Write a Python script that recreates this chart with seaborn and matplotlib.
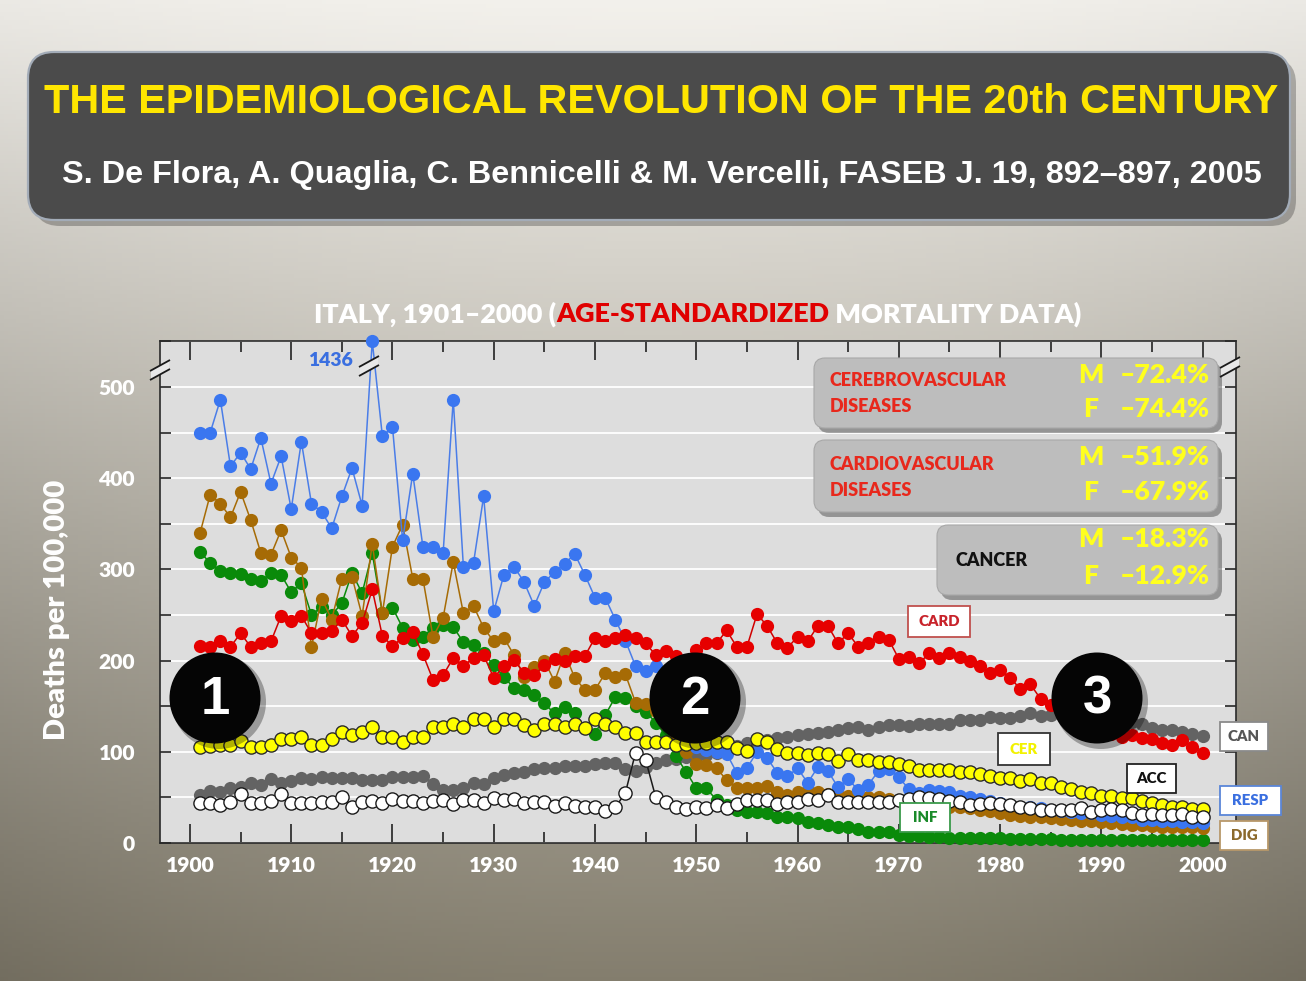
import numpy as np
import pandas as pd
import matplotlib
matplotlib.use("Agg")
import matplotlib.pyplot as plt
from matplotlib.patches import FancyBboxPatch, Ellipse, Rectangle, Polygon
from matplotlib.ticker import MultipleLocator
import seaborn as sns

# ---------------- data (deaths per 100,000, Italy, age-standardized) ----------------
years = list(range(1901, 2001))

resp = [450, 450, 486, 413, 428, 410, 444, 394, 424, 366,
        440, 372, 363, 345, 380, 411, 370, 1436, 446, 456,
        332, 405, 325, 325, 318, 486, 303, 307, 380, 254,
        294, 303, 286, 260, 286, 297, 306, 317, 294, 269,
        269, 245, 222, 194, 189, 194, 170, 150, 125, 105,
        102, 100, 98, 77, 82, 100, 93, 77, 73, 82,
        66, 83, 79, 61, 70, 58, 64, 79, 81, 72,
        59, 55, 58, 57, 56, 52, 50, 48, 46, 44,
        42, 40, 40, 38, 36, 35, 34, 33, 33, 31,
        30, 28, 28, 25, 25, 24, 24, 23, 23, 22]

dig = [340, 382, 372, 357, 385, 354, 318, 316, 343, 313,
       302, 215, 268, 245, 290, 292, 249, 328, 252, 325,
       349, 290, 290, 226, 247, 308, 252, 260, 236, 221,
       225, 206, 182, 193, 200, 177, 208, 181, 168, 168,
       186, 182, 185, 154, 152, 145, 130, 115, 100, 87,
       85, 82, 69, 60, 60, 60, 62, 56, 53, 56,
       58, 56, 54, 53, 52, 51, 50, 50, 48, 47,
       46, 44, 43, 42, 40, 39, 38, 36, 35, 33,
       31, 30, 29, 28, 27, 26, 25, 24, 24, 23,
       22, 21, 20, 20, 19, 18, 18, 17, 17, 16]

inf = [319, 307, 298, 296, 295, 290, 287, 296, 294, 275,
       285, 250, 259, 250, 263, 296, 274, 318, 252, 258,
       236, 223, 226, 236, 239, 237, 220, 217, 208, 195,
       182, 170, 168, 162, 153, 142, 149, 142, 126, 120,
       140, 160, 159, 150, 144, 132, 118, 95, 78, 60,
       60, 47, 42, 36, 34, 34, 33, 29, 29, 27,
       23, 22, 20, 18, 18, 15, 12, 12, 12, 9,
       8, 8, 7, 7, 6, 6, 6, 5, 5, 5,
       4, 4, 4, 4, 4, 3, 3, 3, 3, 3,
       3, 3, 3, 3, 3, 3, 3, 3, 3, 3]

card = [216, 215, 221, 215, 230, 215, 219, 221, 249, 243,
        249, 230, 230, 232, 245, 227, 241, 278, 227, 216,
        225, 231, 207, 179, 184, 203, 194, 203, 206, 181,
        194, 201, 186, 184, 195, 202, 200, 205, 205, 225,
        221, 225, 228, 225, 219, 206, 210, 205, 200, 212,
        219, 219, 233, 215, 215, 251, 238, 219, 214, 226,
        221, 238, 238, 219, 230, 215, 219, 226, 223, 202,
        204, 197, 208, 203, 208, 204, 200, 194, 186, 190,
        181, 169, 174, 158, 151, 145, 140, 135, 130, 124,
        120, 116, 118, 115, 114, 110, 107, 113, 105, 99]

cer = [105, 106, 107, 107, 112, 105, 105, 107, 114, 114,
       116, 107, 107, 114, 122, 118, 122, 127, 116, 116,
       111, 116, 116, 127, 127, 130, 127, 136, 136, 127,
       136, 136, 129, 124, 130, 130, 127, 130, 126, 136,
       130, 127, 121, 121, 111, 111, 111, 107, 108, 110,
       110, 111, 111, 104, 101, 114, 111, 103, 99, 99,
       96, 99, 98, 90, 98, 91, 91, 89, 89, 87,
       84, 80, 80, 80, 80, 78, 78, 76, 73, 71,
       71, 68, 70, 66, 66, 61, 59, 56, 55, 52,
       52, 49, 49, 46, 44, 42, 40, 40, 37, 37]

can = [53, 57, 56, 60, 61, 66, 64, 70, 66, 68,
       71, 70, 72, 71, 71, 71, 69, 69, 69, 72,
       72, 72, 74, 65, 58, 58, 60, 66, 65, 71,
       75, 77, 78, 81, 82, 82, 84, 84, 84, 87,
       88, 88, 81, 79, 83, 88, 91, 92, 94, 94,
       96, 99, 102, 106, 110, 111, 113, 115, 116, 118,
       120, 121, 122, 124, 126, 127, 124, 127, 129, 129,
       128, 131, 131, 131, 131, 135, 135, 135, 138, 137,
       137, 139, 142, 139, 140, 141, 141, 140, 140, 138,
       137, 135, 133, 130, 126, 124, 124, 122, 120, 117]

acc = [44, 44, 42, 45, 54, 44, 44, 46, 54, 44,
       44, 44, 45, 45, 50, 40, 45, 46, 44, 48,
       46, 46, 44, 46, 47, 43, 47, 47, 44, 49,
       47, 48, 44, 45, 45, 41, 44, 41, 39, 39,
       35, 39, 55, 99, 91, 50, 45, 39, 37, 39,
       38, 42, 38, 43, 47, 47, 47, 43, 45, 45,
       48, 47, 53, 45, 45, 45, 45, 45, 45, 47,
       48, 50, 49, 48, 46, 45, 42, 43, 44, 43,
       42, 40, 38, 36, 36, 36, 36, 38, 34, 36,
       37, 36, 33, 31, 32, 31, 31, 32, 29, 29]

series = {"CAN": can, "INF": inf, "DIG": dig, "RESP": resp,
          "CARD": card, "CER": cer, "ACC": acc}

Y_MAX = 550.4   # broken axis: values above are drawn at the top edge

df = pd.concat([pd.DataFrame({"year": years, "rate": v, "cause": k})
                for k, v in series.items()], ignore_index=True)
df["shown"] = df["rate"].clip(upper=Y_MAX)

# ---------------- styles ----------------
styles = {
    "CAN":  dict(color="#636363", mfc="#636363", mec="#636363", mew=0.0, z=2),
    "INF":  dict(color="#0a8a0a", mfc="#0a8a0a", mec="#0a8a0a", mew=0.0, z=3),
    "DIG":  dict(color="#a66b05", mfc="#a66b05", mec="#a66b05", mew=0.0, z=4),
    "RESP": dict(color="#4a7de8", mfc="#3a76f0", mec="#3a76f0", mew=0.0, z=5),
    "CARD": dict(color="#d00000", mfc="#e60000", mec="#e60000", mew=0.0, z=6),
    "CER":  dict(color="#3a3a20", mfc="#ffff00", mec="#2a2a2a", mew=1.0, z=7),
    "ACC":  dict(color="#1a1a1a", mfc="#ffffff", mec="#1a1a1a", mew=1.0, z=8),
}

W, H = 1306, 981
plt.rcParams["font.family"] = ["Lato", "DejaVu Sans"]
fig = plt.figure(figsize=(W / 100, H / 100), dpi=100)

# ---------------- slide background ----------------
bg = fig.add_axes([0, 0, 1, 1], zorder=0)
hh, ww = 240, 320
t = np.linspace(0, 1, hh)[:, None, None]
s = np.linspace(-1, 1, ww)[None, :, None]
top = np.array([243, 241, 236]) / 255.0
bot = np.array([132, 126, 110]) / 255.0
img = top * (1 - t) + bot * t
img = img * (1 - 0.13 * s ** 2 * (0.25 + 0.75 * t))
img = np.broadcast_to(img, (hh, ww, 3))
bg.imshow(np.clip(img, 0, 1), extent=[0, 1, 0, 1], aspect="auto", origin="upper")
bg.axis("off")

# ---------------- main chart ----------------
L, R_, T, B = 160, 1236, 341, 843
ax = fig.add_axes([L / W, 1 - B / H, (R_ - L) / W, (B - T) / H], zorder=1)
ax.set_facecolor("#dddddd")

for k in series:
    st = styles[k]
    sub = df[df["cause"] == k]
    sns.lineplot(data=sub, x="year", y="shown", ax=ax, estimator=None,
                 errorbar=None, legend=False, color=st["color"], linewidth=1.1,
                 marker="o", markersize=9.5, markerfacecolor=st["mfc"],
                 markeredgecolor=st["mec"], markeredgewidth=st["mew"],
                 zorder=st["z"])
for ln in ax.lines:
    ln.set_clip_on(False)

ax.set_xlim(1897.04, 2003.3)
ax.set_ylim(0, Y_MAX)
ax.set_xlabel("")
ax.set_ylabel("")
ax.set_xticks(range(1900, 2001, 10))
ax.xaxis.set_minor_locator(MultipleLocator(5))
ax.set_yticks(range(0, 501, 100))
ax.yaxis.set_minor_locator(MultipleLocator(50))
ax.grid(True, axis="y", which="both", color="white", linewidth=1.3, zorder=0)
ax.grid(False, axis="x", which="both")
ax.set_axisbelow(True)
for sp in ax.spines.values():
    sp.set_color("#2a2a2a")
    sp.set_linewidth(1.2)

R = fig.canvas.get_renderer()
WT = "heavy"


def fit(txt, width, family, weight=WT, base=20.0):
    tt = fig.text(0, 0, txt, fontsize=base, family=family, fontweight=weight)
    w = tt.get_window_extent(renderer=R).width
    tt.remove()
    return base * width / w


CAL = ["Lato", "DejaVu Sans"]
ARIAL = ["Liberation Sans", "DejaVu Sans"]

tick_fs = fit("1900", 49, CAL)
ax.tick_params(axis="x", which="major", direction="in", length=14, width=1.2,
               top=True, bottom=True, color="#222222", labelcolor="white",
               labelsize=tick_fs, pad=9)
ax.tick_params(axis="x", which="minor", direction="in", length=8, width=1.2,
               top=True, bottom=True, color="#222222")
ax.tick_params(axis="y", which="both", direction="in", length=8, width=1.2,
               left=True, right=True, color="#222222", labelcolor="white",
               labelsize=tick_fs, pad=18)
for lb in ax.get_xticklabels() + ax.get_yticklabels():
    lb.set_fontweight(WT)
    lb.set_family(CAL)

# ---------------- overlay in pixel coordinates ----------------
ov = fig.add_axes([0, 0, 1, 1], zorder=3)
ov.set_xlim(0, W)
ov.set_ylim(H, 0)
ov.axis("off")

# title box
ov.add_patch(FancyBboxPatch((34, 58), 1262, 168, boxstyle="round,pad=0,rounding_size=26",
                            facecolor="#000000", alpha=0.25, edgecolor="none"))
ov.add_patch(FancyBboxPatch((28, 52), 1262, 168, boxstyle="round,pad=0,rounding_size=26",
                            facecolor="#4b4b4b", edgecolor="#a3acb8", linewidth=1.6))
t1 = "THE EPIDEMIOLOGICAL REVOLUTION OF THE 20th CENTURY"
ov.text(661, 102, t1, ha="center", va="center", color="#ffe600", family=ARIAL,
        fontweight="bold", fontsize=fit(t1, 1233, ARIAL, "bold"))
t2 = "S. De Flora, A. Quaglia, C. Bennicelli & M. Vercelli, FASEB J. 19, 892–897, 2005"
ov.text(662, 175, t2, ha="center", va="center", color="white", family=ARIAL,
        fontweight="bold", fontsize=fit(t2, 1200, ARIAL, "bold"))

# chart title in three colours
parts = [("ITALY, 1901–2000 (", "white"), ("AGE-STANDARDIZED", "#e00000"),
         (" MORTALITY DATA)", "white")]
full = "".join(p for p, _ in parts)
cfs = fit(full, 771, CAL)
x0 = 314
for p, c in parts:
    tx = ov.text(x0, 314, p, ha="left", va="center", color=c, family=CAL,
                 fontweight=WT, fontsize=cfs)
    x0 += tx.get_window_extent(renderer=R).width

# y label
ylab = "Deaths per 100,000"
ov.text(57, 610, ylab, rotation=90, ha="center", va="center", color="white",
        family=CAL, fontweight=WT, fontsize=fit(ylab, 260, CAL))

# break marks
def brk(cx, cy):
    d = 4.5
    poly = Polygon([(cx - 9, cy + 5 - d), (cx + 9, cy - 5 - d),
                    (cx + 9, cy - 5 + d), (cx - 9, cy + 5 + d)],
                   closed=True, facecolor="#e8e8e8", edgecolor="none", zorder=5)
    ov.add_patch(poly)
    for off in (-d, d):
        ov.plot([cx - 10, cx + 10], [cy + 5.5 + off, cy - 5.5 + off],
                color="#1a1a1a", lw=1.3, zorder=6, solid_capstyle="butt")

brk(160, 370)
brk(1230, 367)
brk(369, 366)
ov.text(330, 361, "1436", ha="center", va="center", color="#3a6fe0", family=CAL,
        fontweight=WT, fontsize=fit("1436", 45, CAL))

# info boxes
def infobox(x0_, y0_, x1_, y1_):
    ov.add_patch(FancyBboxPatch((x0_ + 4, y0_ + 5), x1_ - x0_, y1_ - y0_,
                                boxstyle="round,pad=0,rounding_size=11",
                                facecolor="#3c3c3c", alpha=0.45, edgecolor="none"))
    ov.add_patch(FancyBboxPatch((x0_, y0_), x1_ - x0_, y1_ - y0_,
                                boxstyle="round,pad=0,rounding_size=11",
                                facecolor="#bdbdbd", edgecolor="#a8a8a8", linewidth=0.8))

infobox(814, 358, 1218, 428)
infobox(814, 440, 1218, 512)
infobox(937, 525, 1218, 595)

red_fs = fit("CEREBROVASCULAR", 178, CAL)
pct_fs = fit("–72.4%", 90, CAL)
RED = "#e8281c"
YEL = "#ffff1e"
ov.text(830, 381, "CEREBROVASCULAR", ha="left", va="center", color=RED, family=CAL,
        fontweight=WT, fontsize=red_fs)
ov.text(830, 406, "DISEASES", ha="left", va="center", color=RED, family=CAL,
        fontweight=WT, fontsize=red_fs)
ov.text(830, 465, "CARDIOVASCULAR", ha="left", va="center", color=RED, family=CAL,
        fontweight=WT, fontsize=red_fs)
ov.text(830, 491, "DISEASES", ha="left", va="center", color=RED, family=CAL,
        fontweight=WT, fontsize=red_fs)
ov.text(955, 560, "CANCER", ha="left", va="center", color="#111111", family=CAL,
        fontweight=WT, fontsize=red_fs)
for (sx, yv, pv) in [("M", 375, "–72.4%"), ("F", 409, "–74.4%"),
                     ("M", 457, "–51.9%"), ("F", 492, "–67.9%"),
                     ("M", 539, "–18.3%"), ("F", 576, "–12.9%")]:
    ov.text(1091, yv, sx, ha="center", va="center", color=YEL, family=CAL,
            fontweight=WT, fontsize=pct_fs)
    ov.text(1210, yv, pv, ha="right", va="center", color=YEL, family=CAL,
            fontweight=WT, fontsize=pct_fs)

# series labels
lab_fs = fit("CARD", 42, CAL)
labels = [("CARD", 908, 606, 970, 637, "#c0504d", "#c8232b"),
          ("CER", 998, 733, 1050, 765, "#333333", "#f2f200"),
          ("ACC", 1127, 764, 1176, 793, "#222222", "#111111"),
          ("INF", 900, 803, 950, 832, "#3a9a4a", "#1a8a2a"),
          ("CAN", 1220, 722, 1268, 751, "#8a8a8a", "#555555"),
          ("RESP", 1220, 786, 1281, 815, "#5a86d8", "#3a6fe0"),
          ("DIG", 1220, 821, 1268, 850, "#b8986a", "#8c6a2c")]
for txt, a0, b0, a1, b1, ec, tc in labels:
    ov.add_patch(Rectangle((a0, b0), a1 - a0, b1 - b0, facecolor="white",
                           edgecolor=ec, linewidth=1.3))
    ov.text((a0 + a1) / 2, (b0 + b1) / 2, txt, ha="center", va="center", color=tc,
            family=CAL, fontweight=WT, fontsize=lab_fs)

# numbered circles
for num, cx in [("1", 215), ("2", 695), ("3", 1097)]:
    ov.add_patch(Ellipse((cx + 4, 702), 94, 94, facecolor="#000000", alpha=0.3,
                         edgecolor="none"))
    ov.add_patch(Ellipse((cx, 698), 91, 91, facecolor="#050505", edgecolor="none"))
    ov.text(cx, 700, num, ha="center", va="center", color="white", family=ARIAL,
            fontweight="bold", fontsize=38)

fig.savefig("out.png", dpi=100)
